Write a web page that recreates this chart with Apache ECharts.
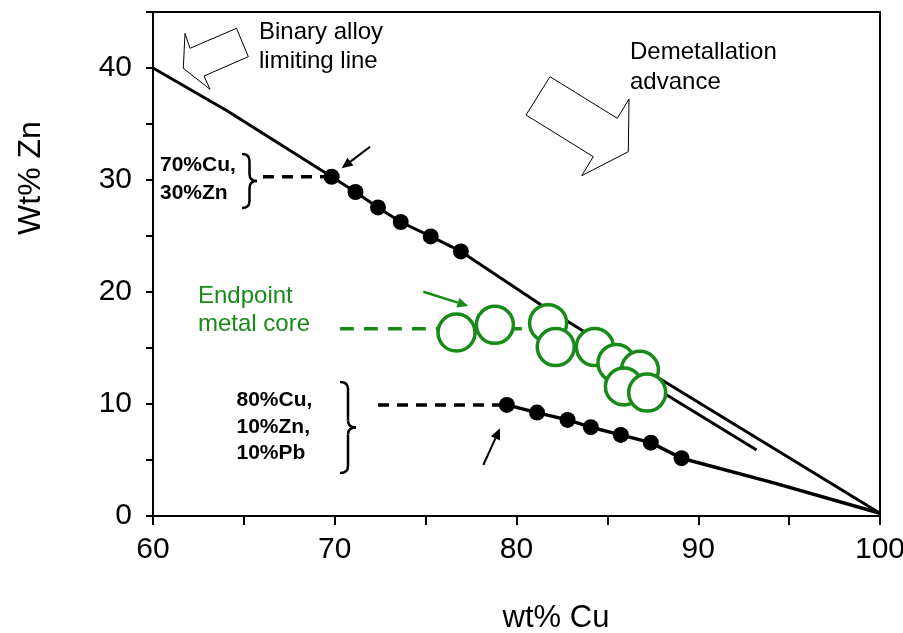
<!DOCTYPE html>
<html>
<head>
<meta charset="utf-8">
<script src="https://cdn.jsdelivr.net/npm/echarts@6/dist/echarts.min.js"></script>
<style>
    html, body { margin: 0; padding: 0; background: #fff; }
    #chart { width: 903px; height: 633px; }
</style>
</head>
<body>
<div id="chart"></div>
<script>
    // values: [wt% Cu, wt% Zn]
    var brassDots = [[69.83, 30.29], [71.14, 28.93], [72.38, 27.55], [73.63, 26.25], [75.28, 24.96], [76.94, 23.62]];
    var leadedDots = [[79.47, 9.92], [81.13, 9.23], [82.81, 8.58], [84.09, 7.93], [85.74, 7.24], [87.39, 6.55], [89.08, 5.16]];
    var endpointCores = [[76.70, 16.38], [78.81, 17.07], [81.74, 17.22], [82.16, 15.08], [84.31, 15.08],
        [85.50, 13.65], [86.79, 13.05], [85.91, 11.56], [87.19, 11.02]];

    var limitLine = [[60, 40], [64.05, 36.2], [69.83, 30.29], [71.14, 28.93], [72.38, 27.55], [73.63, 26.25],
        [75.28, 24.96], [76.94, 23.62], [81.3, 18.9], [88.2, 11.95], [100, 0.25]];
    var innerLine = [[86.0, 13.05], [93.21, 5.9]];
    var leadedLine = [[79.47, 9.92], [81.13, 9.23], [82.81, 8.58], [84.09, 7.93], [85.74, 7.24], [87.39, 6.55],
        [89.08, 5.16], [94.1, 2.98], [100, 0.25]];

    var brassGuide = [[66.05, 30.29], [69.83, 30.29]];
    var leadedGuide = [[72.38, 9.92], [79.47, 9.92]];
    var coreGuide = [[70.28, 16.71], [80.73, 16.71]];

    var xTicks = { min: 60, max: 100, step: 5 };
    var yTicks = { min: 0, max: 45, step: 5 };

    var FONT = "'Liberation Sans', Arial, sans-serif";
    var GREEN = '#178a17';

    function arrow(x1, y1, x2, y2, color, w) {
        var a = Math.atan2(y2 - y1, x2 - x1);
        var L = 11, W = 5;
        var bx = x2 - L * Math.cos(a), by = y2 - L * Math.sin(a);
        var px = -Math.sin(a) * W, py = Math.cos(a) * W;
        return [
            { type: 'line', shape: { x1: x1, y1: y1, x2: bx, y2: by }, style: { stroke: color, lineWidth: w } },
            { type: 'polygon', shape: { points: [[x2, y2], [bx + px, by + py], [bx - px, by - py]] }, style: { fill: color } }
        ];
    }

    function brace(x0, x1, top, bottom) {
        var xm = (x0 + x1) / 2, mid = (top + bottom) / 2, r = 7;
        var st = { stroke: '#000', lineWidth: 2.5, fill: null };
        return [
            { type: 'bezierCurve', shape: { x1: x0, y1: top, x2: xm, y2: top + r, cpx1: xm, cpy1: top }, style: st },
            { type: 'line', shape: { x1: xm, y1: top + r, x2: xm, y2: mid - r }, style: st },
            { type: 'bezierCurve', shape: { x1: xm, y1: mid - r, x2: x1, y2: mid, cpx1: xm, cpy1: mid }, style: st },
            { type: 'bezierCurve', shape: { x1: x1, y1: mid, x2: xm, y2: mid + r, cpx1: xm, cpy1: mid }, style: st },
            { type: 'line', shape: { x1: xm, y1: mid + r, x2: xm, y2: bottom - r }, style: st },
            { type: 'bezierCurve', shape: { x1: xm, y1: bottom - r, x2: x0, y2: bottom, cpx1: xm, cpy1: bottom }, style: st }
        ];
    }

    function label(x, y, text, size, lh, opts) {
        opts = opts || {};
        return {
            type: 'text', x: x, y: y, rotation: opts.rotation || 0,
            style: {
                text: text, fontSize: size, fontFamily: FONT, fontWeight: opts.bold ? 'bold' : 'normal',
                fill: opts.color || '#000', lineHeight: lh,
                align: opts.align || 'left', verticalAlign: opts.vAlign || 'top'
            }
        };
    }

    var graphics = [
        { type: 'polygon', shape: { points: [[183.3, 68.3], [185, 33.3], [190, 48.3], [236.5, 28.3], [248.3, 56.7], [204, 76], [210, 89.3]] },
          style: { fill: '#fff', stroke: '#000', lineWidth: 1 } },
        { type: 'polygon', shape: { points: [[550, 76.7], [617.3, 118.3], [629, 99], [628.3, 151.7], [581.7, 175.7], [593.3, 156.7], [526, 115]] },
          style: { fill: '#fff', stroke: '#000', lineWidth: 1 } },
        label(259, 17.5, 'Binary alloy\nlimiting line', 24, 29),
        label(630, 38, 'Demetallation\nadvance', 24, 29.5),
        label(198, 282, 'Endpoint\nmetal core', 24, 28.5, { color: GREEN }),
        label(160, 150.5, '70%Cu,\n30%Zn', 21, 28.5, { bold: true }),
        label(236.5, 386.7, '80%Cu,\n10%Zn,\n10%Pb', 21, 26.7, { bold: true }),
        label(31, 178, 'Wt% Zn', 32, 34, { rotation: Math.PI / 2, align: 'center', vAlign: 'middle' }),
        label(556, 618, 'wt% Cu', 31, 32, { align: 'center', vAlign: 'middle' })
    ].concat(
        arrow(370, 146.7, 341.7, 168.3, '#000', 2),
        arrow(483.3, 465, 500, 428.3, '#000', 2),
        arrow(423.3, 291.7, 468.3, 306, GREEN, 2.5),
        brace(242, 257, 154, 208),
        brace(340, 356, 382, 473)
    );

    function tenOnly(v) { return v % 10 === 0 ? String(v) : ''; }

    function lineSeries(data, color, width, dash, z) {
        return {
            type: 'line', data: data, symbol: 'none', silent: true, z: z || 2,
            lineStyle: { color: color, width: width, type: dash || 'solid' }
        };
    }

    var chart = echarts.init(document.getElementById('chart'));
    chart.setOption({
        animation: false,
        grid: { left: 153, right: 23, top: 12, bottom: 117, show: true, borderColor: '#000', borderWidth: 2,
                containLabel: false, outerBoundsMode: 'none' },
        xAxis: {
            type: 'value', min: xTicks.min, max: xTicks.max, interval: xTicks.step,
            axisLine: { lineStyle: { color: '#000', width: 2 } },
            axisTick: { length: 9, lineStyle: { color: '#000', width: 2 } },
            axisLabel: { formatter: tenOnly, fontSize: 30, fontFamily: FONT, color: '#000', margin: 19 },
            splitLine: { show: false }
        },
        yAxis: {
            type: 'value', min: yTicks.min, max: yTicks.max, interval: yTicks.step,
            axisLine: { lineStyle: { color: '#000', width: 2 } },
            axisTick: { length: 7, lineStyle: { color: '#000', width: 2 } },
            axisLabel: { formatter: tenOnly, fontSize: 30, fontFamily: FONT, color: '#000', margin: 21 },
            splitLine: { show: false }
        },
        series: [
            lineSeries(limitLine, '#000', 3),
            lineSeries(innerLine, '#000', 3),
            lineSeries(leadedLine, '#000', 3.5),
            lineSeries(brassGuide, '#000', 3.5, [11, 8]),
            lineSeries(leadedGuide, '#000', 3.5, [11, 8]),
            lineSeries(coreGuide, GREEN, 3.5, [14, 10]),
            { type: 'scatter', data: brassDots, symbolSize: 16, itemStyle: { color: '#000', opacity: 1 }, z: 4 },
            { type: 'scatter', data: leadedDots, symbolSize: 16, itemStyle: { color: '#000', opacity: 1 }, z: 4 },
            { type: 'scatter', data: endpointCores, symbolSize: 37, z: 5,
              itemStyle: { color: '#fff', borderColor: GREEN, borderWidth: 3.5, opacity: 1 } }
        ],
        graphic: graphics
    });
</script>
</body>
</html>
